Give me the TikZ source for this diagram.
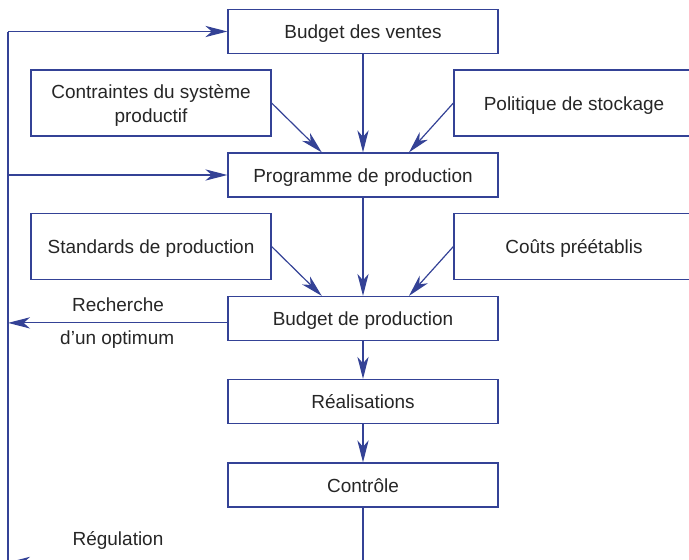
\documentclass[tikz,border=0pt]{standalone}
\usepackage{fontspec}
\setmainfont{Liberation Sans}
\usetikzlibrary{arrows.meta}
\definecolor{trait}{RGB}{52,66,150}
\definecolor{texte}{RGB}{38,38,38}
\begin{document}
\begin{tikzpicture}[
    box/.style={draw=trait, line width=0.85pt, minimum width=6.75cm, minimum height=1.1cm,
      inner sep=0pt, text=texte, text height=10.4pt, text depth=0pt},
    side/.style={box, minimum width=6cm, minimum height=1.65cm},
    twolines/.style={side, align=center, text height=28pt},
    lbl/.style={text=texte},
    >={Stealth[length=5.5mm, width=2.8mm, inset=1.6mm]},
    every node/.append style={font=\fontsize{13.5}{17}\selectfont}]
  \useasboundingbox (0,0) rectangle (17.225,-14);
  \clip (0,0) rectangle (17.225,-14);
  \draw
    (9.075,-0.7875) node[box] (ventes){Budget des ventes}
    (3.775,-2.575) node[twolines] (contraintes){Contraintes du système\\productif}
    (14.35,-2.575) node[side] (stockage){Politique de stockage}
    (9.075,-4.375) node[box] (programme){Programme de production}
    (3.775,-6.1625) node[side] (standards){Standards de production}
    (14.35,-6.1625) node[side] (couts){Coûts préétablis}
    (9.075,-7.9625) node[box] (budget){Budget de production}
    (9.075,-10.0375) node[box] (realis){Réalisations}
    (9.075,-12.125) node[box] (controle){Contrôle};
  \coordinate (haut) at (0.2,-0.7875);
  \coordinate (bas) at (0.2,-14.3);
  \coordinate (retour) at (0.2,-14.06);
  \node[lbl] (recherche) at (2.95,-7.62) {Recherche};
  \node[lbl] (optimum) at (2.93,-8.5) {d’un optimum};
  \node[lbl] (regulation) at (2.95,-13.52) {Régulation};
  \begin{scope}[draw=trait, line width=0.85pt, ->]
    \draw[-] (haut) -- (bas);
    \draw (haut) -- (ventes);
    \draw (0.2,-4.375) -- (programme);
    \draw (ventes) -- (programme);
    \draw (contraintes.east) -- ([xshift=-1.03cm]programme.north);
    \draw (stockage.west) -- ([xshift=1.15cm]programme.north);
    \draw (programme) -- (budget);
    \draw (standards.east) -- ([xshift=-1.03cm]budget.north);
    \draw (couts.west) -- ([xshift=1.15cm]budget.north);
    \draw ([yshift=-0.11cm]budget.west) -- (0.2,-8.0725);
    \draw (budget) -- (realis);
    \draw (realis) -- (controle);
    \draw (controle.south) |- (retour);
  \end{scope}
\end{tikzpicture}
\end{document}
